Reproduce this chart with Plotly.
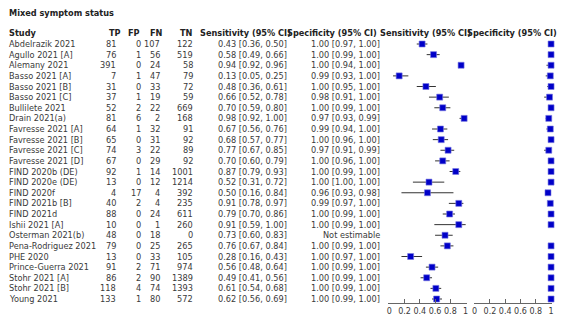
import plotly.graph_objects as go

title = "Mixed symptom status"
studies = ["Abdelrazik 2021", "Agullo 2021 [A]", "Alemany 2021", "Basso 2021 [A]", "Basso 2021 [B]",
           "Basso 2021 [C]", "Bullilete 2021", "Drain 2021(a)", "Favresse 2021 [A]", "Favresse 2021 [B]",
           "Favresse 2021 [C]", "Favresse 2021 [D]", "FIND 2020b (DE)", "FIND 2020e (DE)", "FIND 2020f",
           "FIND 2021b [B]", "FIND 2021d", "Ishii 2021 [A]", "Osterman 2021(b)", "Pena-Rodriguez 2021",
           "PHE 2020", "Prince-Guerra 2021", "Stohr 2021 [A]", "Stohr 2021 [B]", "Young 2021"]
tp = [81, 76, 391, 7, 31, 37, 52, 81, 64, 65, 74, 67, 92, 13, 4, 40, 88, 10, 48, 79, 13, 91, 86, 118, 133]
fp = [0, 1, 0, 1, 0, 1, 2, 6, 1, 0, 3, 0, 1, 0, 17, 2, 0, 0, 0, 0, 0, 2, 2, 4, 1]
fn = [107, 56, 24, 47, 33, 19, 22, 2, 32, 31, 22, 29, 14, 12, 4, 4, 24, 1, 18, 25, 33, 71, 90, 74, 80]
tn = [122, 519, 58, 79, 72, 59, 669, 168, 91, 92, 89, 92, 1001, 1214, 392, 235, 611, 260, 0, 265, 105, 974, 1389, 1393, 572]
sens = [0.43, 0.58, 0.94, 0.13, 0.48, 0.66, 0.70, 0.98, 0.67, 0.68, 0.77, 0.70, 0.87, 0.52, 0.50,
        0.91, 0.79, 0.91, 0.73, 0.76, 0.28, 0.56, 0.49, 0.61, 0.62]
sens_lo = [0.36, 0.49, 0.92, 0.05, 0.36, 0.52, 0.59, 0.92, 0.56, 0.57, 0.67, 0.60, 0.79, 0.31, 0.16,
           0.78, 0.70, 0.59, 0.60, 0.67, 0.16, 0.48, 0.41, 0.54, 0.56]
sens_hi = [0.50, 0.66, 0.96, 0.25, 0.61, 0.78, 0.80, 1.00, 0.76, 0.77, 0.85, 0.79, 0.93, 0.72, 0.84,
           0.97, 0.86, 1.00, 0.83, 0.84, 0.43, 0.64, 0.56, 0.68, 0.69]
spec = [1.00, 1.00, 1.00, 0.99, 1.00, 0.98, 1.00, 0.97, 0.99, 1.00, 0.97, 1.00, 1.00, 1.00, 0.96,
        0.99, 1.00, 1.00, None, 1.00, 1.00, 1.00, 1.00, 1.00, 1.00]
spec_lo = [0.97, 0.99, 0.94, 0.93, 0.95, 0.91, 0.99, 0.93, 0.94, 0.96, 0.91, 0.96, 0.99, 1.00, 0.93,
           0.97, 0.99, 0.99, None, 0.99, 0.97, 0.99, 0.99, 0.99, 0.99]
spec_hi = [1.00, 1.00, 1.00, 1.00, 1.00, 1.00, 1.00, 0.99, 1.00, 1.00, 0.99, 1.00, 1.00, 1.00, 0.98,
           1.00, 1.00, 1.00, None, 1.00, 1.00, 1.00, 1.00, 1.00, 1.00]
tick_vals = [0, 0.2, 0.4, 0.6, 0.8, 1]
tick_text = ["0", "0.2", "0.4", "0.6", "0.8", "1"]
headers = ["Study", "TP", "FP", "FN", "TN", "Sensitivity (95% CI)", "Specificity (95% CI)"]

W, H = 562, 322
FONT = "DejaVu Sans, Verdana, sans-serif"
TXT = "#3a3a3a"
rows = list(range(len(studies)))


def fx(x):
    return x / W


def fy(y):
    return 1 - y / H


def ci_text(e, lo, hi):
    if e is None:
        return "Not estimable"
    return f"{e:.2f} [{lo:.2f}, {hi:.2f}]"


def err_plus(e, hi):
    return None if e is None else round(hi - e, 4)


def err_minus(e, lo):
    return None if e is None else round(e - lo, 4)


fig = go.Figure()
marker = dict(symbol="square", size=6, color="#0000c8", line=dict(width=0.6, color="#7a7ae0"))
fig.add_trace(go.Scatter(
    x=sens, y=rows, mode="markers", marker=marker, xaxis="x", yaxis="y", cliponaxis=False,
    error_x=dict(type="data", symmetric=False,
                 array=[err_plus(e, h) for e, h in zip(sens, sens_hi)],
                 arrayminus=[err_minus(e, l) for e, l in zip(sens, sens_lo)],
                 width=0, thickness=1, color="#333333"),
    hoverinfo="skip", showlegend=False))
fig.add_trace(go.Scatter(
    x=spec, y=rows, mode="markers", marker=marker, xaxis="x2", yaxis="y", cliponaxis=False,
    error_x=dict(type="data", symmetric=False,
                 array=[err_plus(e, h) for e, h in zip(spec, spec_hi)],
                 arrayminus=[err_minus(e, l) for e, l in zip(spec, spec_lo)],
                 width=0, thickness=1, color="#333333"),
    hoverinfo="skip", showlegend=False))

ann = []
f_reg = dict(family=FONT, size=8.2, color=TXT)
f_bold = dict(family=FONT, size=8.2, color="#222222")

ann.append(dict(text="<b>" + title + "</b>", x=fx(6), y=fy(12.5), xref="paper", yref="paper",
                xanchor="left", yanchor="middle", showarrow=False, font=f_bold, borderpad=0))

# header row
hdr_pos = [(6, "left"), (121, "right"), (140, "right"), (163, "right"), (193, "right"),
           (292, "right"), (379, "right")]
for h, (x, anc) in zip(headers, hdr_pos):
    ann.append(dict(text="<b>" + h + "</b>", x=fx(x), y=fy(33), xref="paper", yref="paper",
                    xanchor=anc, yanchor="middle", showarrow=False, font=f_bold, borderpad=0))
for h, xc in [(headers[5], 427), (headers[6], 514)]:
    ann.append(dict(text="<b>" + h + "</b>", x=fx(xc), y=fy(33), xref="paper", yref="paper",
                    xanchor="center", yanchor="middle", showarrow=False, font=f_bold, borderpad=0))

for i in rows:
    cells = [(studies[i], 6, "left"), (str(tp[i]), 116, "right"), (str(fp[i]), 141, "right"),
             (str(fn[i]), 160, "right"), (str(tn[i]), 193, "right"),
             (ci_text(sens[i], sens_lo[i], sens_hi[i]), 288, "right"),
             (ci_text(spec[i], spec_lo[i], spec_hi[i]), 382, "right")]
    for t, x, anc in cells:
        ann.append(dict(text=t, x=fx(x), y=i, xref="paper", yref="y", xanchor=anc, yanchor="middle",
                        showarrow=False, font=f_reg, borderpad=0))

axis_common = dict(range=[-0.013, 1.013], tickvals=tick_vals, ticktext=tick_text, showline=True,
                   linecolor="#666666", linewidth=1, ticks="inside", ticklen=4, tickcolor="#666666",
                   showgrid=False, zeroline=False, tickangle=0,
                   tickfont=dict(family=FONT, size=8, color=TXT),
                   anchor="y", fixedrange=True)

fig.update_layout(
    width=W, height=H, margin=dict(l=0, r=0, t=0, b=0),
    paper_bgcolor="white", plot_bgcolor="white",
    xaxis=dict(domain=[fx(389), fx(468)], **axis_common),
    xaxis2=dict(domain=[fx(475), fx(554)], **axis_common),
    yaxis=dict(domain=[fy(303), fy(38)], range=[24.376, -0.565], visible=False, fixedrange=True),
    annotations=ann, showlegend=False,
)

fig.write_html("out.html", config={"displayModeBar": False, "staticPlot": True},
               post_script="document.body.style.margin='0';document.body.style.overflow='hidden';")
